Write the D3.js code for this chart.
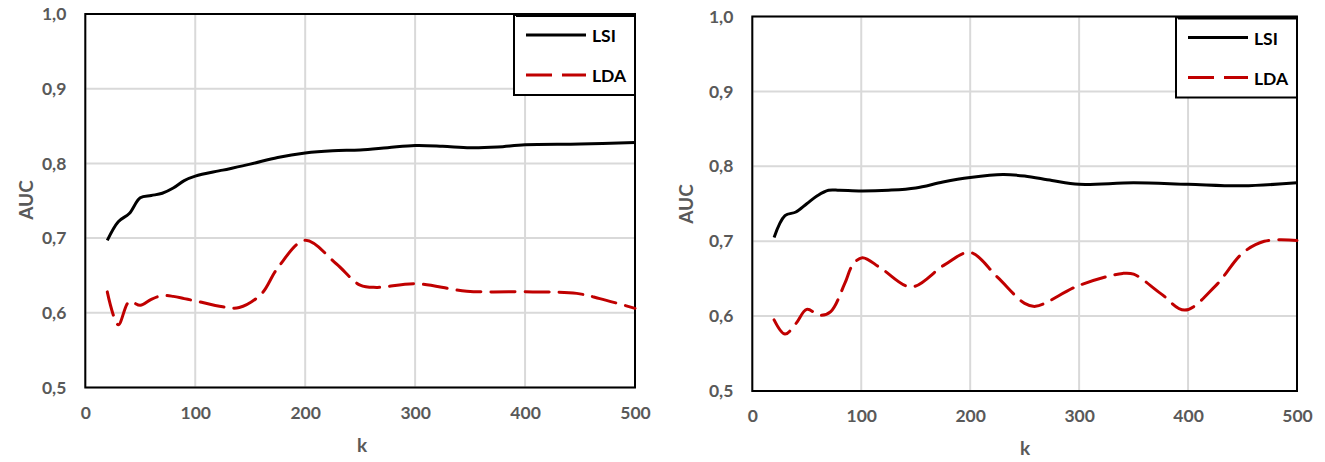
<!DOCTYPE html>
<html>
<head>
<meta charset="utf-8">
<script src="https://cdn.jsdelivr.net/npm/d3@7"></script>
<style>
  html, body { margin: 0; padding: 0; background: #fff; }
  svg { display: block; }
  text { font-family: Lato, "Open Sans", sans-serif; font-weight: 700; }
</style>
</head>
<body>
<svg id="chart" width="1325" height="462"></svg>
<script>
// ---- data ----
const xTicks = [0, 100, 200, 300, 400, 500];
const yTicks = [0.5, 0.6, 0.7, 0.8, 0.9, 1.0];
const seriesNames = ["LSI", "LDA"];

// Left panel
const kLsiLeft = [20, 30, 40, 50, 60, 70, 80, 90, 100, 125, 150, 175, 200, 225, 250, 275, 300, 325, 350, 375, 400, 450, 500];
const lsiLeft  = [0.697, 0.722, 0.733, 0.754, 0.757, 0.760, 0.767, 0.777, 0.783, 0.791, 0.799, 0.808, 0.814, 0.817, 0.818, 0.821, 0.824, 0.823, 0.821, 0.822, 0.825, 0.826, 0.828];
const kLdaLeft = [20, 30, 40, 50, 60, 70, 80, 90, 100, 125, 140, 160, 175, 200, 228, 250, 265, 300, 347, 407, 447, 468, 500];
const ldaLeft  = [0.628, 0.584, 0.615, 0.610, 0.618, 0.623, 0.622, 0.619, 0.616, 0.608, 0.607, 0.625, 0.660, 0.697, 0.666, 0.637, 0.634, 0.639, 0.629, 0.628, 0.626, 0.619, 0.606];

// Right panel
const kLsiRight = [20, 30, 40, 50, 60, 70, 80, 100, 125, 150, 175, 200, 230, 250, 275, 300, 350, 400, 450, 500];
const lsiRight  = [0.705, 0.734, 0.739, 0.750, 0.761, 0.768, 0.768, 0.767, 0.768, 0.771, 0.779, 0.785, 0.789, 0.787, 0.781, 0.776, 0.778, 0.776, 0.774, 0.778];
const kLdaRight = [20, 30, 40, 50, 62, 72, 85, 92, 101, 118, 146, 176, 200, 225, 250, 260, 300, 340, 350, 375, 397, 425, 450, 470, 500];
const ldaRight  = [0.595, 0.576, 0.590, 0.609, 0.601, 0.606, 0.644, 0.668, 0.678, 0.664, 0.639, 0.668, 0.685, 0.652, 0.617, 0.613, 0.641, 0.657, 0.656, 0.630, 0.608, 0.640, 0.684, 0.700, 0.701];

// ---- drawing ----
const svg = d3.select("#chart");
const fmt = d => d3.format(".1f")(d).replace(".", ",");

function panel(box, lsiK, lsiV, ldaK, ldaV, titleAUC, titleK) {
  const x = d3.scaleLinear().domain([0, 500]).range([box.left, box.right]);
  const y = d3.scaleLinear().domain([0.5, 1.0]).range([box.bottom, box.top]);
  const g = svg.append("g");

  // gridlines
  g.append("g").selectAll("line.h").data(yTicks).join("line")
    .attr("x1", box.left).attr("x2", box.right)
    .attr("y1", d => y(d)).attr("y2", d => y(d))
    .attr("stroke", "#d9d9d9").attr("stroke-width", 2);
  g.append("g").selectAll("line.v").data(xTicks).join("line")
    .attr("x1", d => x(d)).attr("x2", d => x(d))
    .attr("y1", box.top).attr("y2", box.bottom)
    .attr("stroke", "#d9d9d9").attr("stroke-width", 2);

  // axes labels via d3 axes
  const ax = g.append("g").attr("transform", `translate(0,${box.bottom})`)
    .call(d3.axisBottom(x).tickValues(xTicks).tickSize(0).tickPadding(19).tickFormat(d3.format("d")));
  const ay = g.append("g").attr("transform", `translate(${box.left},0)`)
    .call(d3.axisLeft(y).tickValues(yTicks).tickSize(0).tickPadding(19).tickFormat(fmt));
  [ax, ay].forEach(a => {
    a.select(".domain").remove();
    a.selectAll("text").attr("fill", "#595959").style("font-size", "17.5px")
      .style("font-family", "Lato, 'Open Sans', sans-serif").style("font-weight", 700);
  });

  // frame
  g.append("rect").attr("x", box.left).attr("y", box.top)
    .attr("width", box.right - box.left).attr("height", box.bottom - box.top)
    .attr("fill", "none").attr("stroke", "#000").attr("stroke-width", 2);

  const line = (ks, vs) => d3.line().x((d, i) => x(ks[i])).y(d => y(d)).curve(d3.curveCatmullRom.alpha(0.5))(vs);

  g.append("path").attr("d", line(lsiK, lsiV))
    .attr("fill", "none").attr("stroke", "#000").attr("stroke-width", 3)
    .attr("stroke-linejoin", "round");
  g.append("path").attr("d", line(ldaK, ldaV))
    .attr("fill", "none").attr("stroke", "#c00000").attr("stroke-width", 3)
    .attr("stroke-dasharray", "24,10").attr("stroke-linecap", "round");

  // legend
  const lx = box.right - 121, ly = box.top + 1;
  const lg = g.append("g");
  lg.append("rect").attr("x", lx).attr("y", ly).attr("width", 121).attr("height", 80)
    .attr("fill", "#fff").attr("stroke", "#000").attr("stroke-width", 2);
  lg.append("line").attr("x1", lx + 2).attr("x2", box.right).attr("y1", ly + 0.5).attr("y2", ly + 0.5)
    .attr("stroke", "#000").attr("stroke-width", 3);
  const items = [
    { name: seriesNames[0], color: "#000", dash: null, dy: 20 },
    { name: seriesNames[1], color: "#c00000", dash: "26,10", dy: 60 }
  ];
  items.forEach(it => {
    lg.append("line").attr("x1", lx + 12).attr("x2", lx + 72)
      .attr("y1", ly + it.dy).attr("y2", ly + it.dy)
      .attr("stroke", it.color).attr("stroke-width", 3)
      .attr("stroke-dasharray", it.dash);
    lg.append("text").attr("x", lx + 78).attr("y", ly + it.dy + 7)
      .attr("fill", "#000").style("font-size", "17.5px").text(it.name);
  });

  // axis titles
  g.append("text").attr("transform", `translate(${titleAUC[0]},${titleAUC[1]}) rotate(-90)`)
    .attr("text-anchor", "middle").attr("dominant-baseline", "middle")
    .attr("fill", "#595959").style("font-size", "19px").text("AUC");
  g.append("text").attr("x", titleK[0]).attr("y", titleK[1])
    .attr("text-anchor", "middle").attr("dominant-baseline", "middle")
    .attr("fill", "#595959").style("font-size", "19px").text("k");
}

panel({ left: 85.3, right: 635, top: 14, bottom: 387.5 }, kLsiLeft, lsiLeft, kLdaLeft, ldaLeft, [28, 200], [362, 447]);
panel({ left: 752.3, right: 1297, top: 16.5, bottom: 391 }, kLsiRight, lsiRight, kLdaRight, ldaRight, [688, 204], [1025, 450]);
</script>
</body>
</html>
